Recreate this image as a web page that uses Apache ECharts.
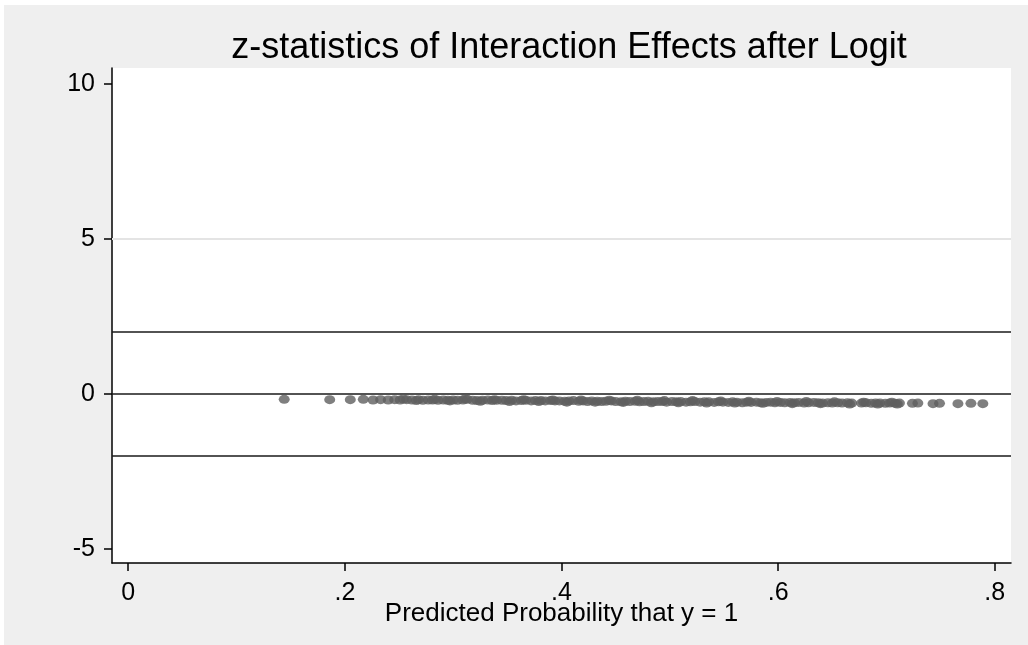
<!DOCTYPE html>
<html>
<head>
<meta charset="utf-8">
<script src="https://cdn.jsdelivr.net/npm/echarts@6/dist/echarts.min.js"></script>
<style>
    html, body { margin: 0; padding: 0; background: #ffffff; }
    #chart { position: absolute; left: 4px; top: 5px; width: 1024px; height: 640px; }
</style>
</head>
<body>
<div id="chart"></div>
<script>
const TITLE = "z-statistics of Interaction Effects after Logit";
const X_NAME = "Predicted Probability that y = 1";

const xTicks = [0, 0.2, 0.4, 0.6, 0.8];
const yTicks = [-5, 0, 5, 10];
const yGrid = [5];
const yRefLines = [-2, 0, 2];

const probs = [
    0.144, 0.186, 0.205, 0.217, 0.226, 0.233, 0.240, 0.246, 0.251, 0.257,
    0.262, 0.268, 0.272, 0.277, 0.281, 0.286, 0.291, 0.295, 0.300, 0.304,
    0.309, 0.313, 0.318, 0.322, 0.327, 0.332, 0.336, 0.340, 0.345, 0.349,
    0.354, 0.358, 0.363, 0.367, 0.372, 0.376, 0.381, 0.385, 0.390, 0.394,
    0.398, 0.403, 0.407, 0.411, 0.416, 0.420, 0.424, 0.428, 0.433, 0.437,
    0.441, 0.446, 0.450, 0.455, 0.459, 0.463, 0.468, 0.472, 0.476, 0.480,
    0.485, 0.489, 0.493, 0.497, 0.502, 0.506, 0.510, 0.515, 0.519, 0.523,
    0.528, 0.532, 0.536, 0.541, 0.545, 0.549, 0.554, 0.558, 0.562, 0.567,
    0.571, 0.575, 0.580, 0.584, 0.589, 0.593, 0.597, 0.602, 0.606, 0.611,
    0.615, 0.619, 0.624, 0.628, 0.633, 0.637, 0.641, 0.646, 0.650, 0.655,
    0.659, 0.664, 0.668, 0.677, 0.681, 0.686, 0.690, 0.694, 0.699, 0.703,
    0.708, 0.712, 0.724, 0.729, 0.743, 0.749, 0.766, 0.778, 0.789,
    0.254, 0.266, 0.283, 0.297, 0.311, 0.325, 0.338, 0.352, 0.365, 0.379,
    0.392, 0.405, 0.418, 0.431, 0.444, 0.457, 0.470, 0.483, 0.495, 0.508,
    0.521, 0.534, 0.547, 0.560, 0.573, 0.586, 0.599, 0.613, 0.626, 0.639,
    0.652, 0.666, 0.679, 0.692, 0.705, 0.710
];

const zStats = [
    -0.17, -0.18, -0.18, -0.17, -0.19, -0.18, -0.19, -0.18, -0.19, -0.18,
    -0.19, -0.18, -0.20, -0.19, -0.19, -0.20, -0.19, -0.20, -0.19, -0.20,
    -0.19, -0.17, -0.20, -0.21, -0.20, -0.19, -0.21, -0.20, -0.20, -0.21,
    -0.20, -0.22, -0.21, -0.20, -0.22, -0.21, -0.21, -0.22, -0.21, -0.22,
    -0.22, -0.23, -0.22, -0.21, -0.23, -0.22, -0.24, -0.22, -0.23, -0.24,
    -0.23, -0.22, -0.24, -0.25, -0.23, -0.24, -0.23, -0.25, -0.24, -0.23,
    -0.25, -0.24, -0.24, -0.26, -0.24, -0.25, -0.24, -0.26, -0.25, -0.24,
    -0.26, -0.25, -0.25, -0.27, -0.25, -0.26, -0.27, -0.25, -0.26, -0.28,
    -0.26, -0.27, -0.26, -0.28, -0.27, -0.26, -0.28, -0.27, -0.28, -0.27,
    -0.28, -0.27, -0.29, -0.28, -0.27, -0.28, -0.29, -0.28, -0.29, -0.28,
    -0.29, -0.28, -0.29, -0.29, -0.28, -0.30, -0.29, -0.29, -0.30, -0.29,
    -0.30, -0.29, -0.30, -0.29, -0.31, -0.30, -0.31, -0.30, -0.31,
    -0.16, -0.21, -0.17, -0.22, -0.16, -0.23, -0.18, -0.24, -0.18, -0.24,
    -0.19, -0.26, -0.19, -0.26, -0.20, -0.27, -0.20, -0.28, -0.21, -0.28,
    -0.21, -0.29, -0.22, -0.29, -0.23, -0.30, -0.24, -0.31, -0.24, -0.31,
    -0.25, -0.32, -0.26, -0.32, -0.26, -0.32
];

const FONT = "'Liberation Sans', Arial, sans-serif";

/* ===========================
   Chart
=========================== */

const chart = echarts.init(document.getElementById("chart"));

const points = probs.map((p, i) => [p, zStats[i]]);

const lines = yGrid.map(v => ({
    yAxis: v,
    lineStyle: { color: "#e4e4e4", width: 2, type: "solid" }
})).concat(yRefLines.map(v => ({
    yAxis: v,
    lineStyle: { color: "#1a1a1a", width: 1.6, type: "solid" }
})));

chart.setOption({

    animation: false,
    backgroundColor: "#efefef",

    title: {
        text: TITLE,
        left: 560,
        top: 20,
        textAlign: "center",
        textStyle: {
            fontFamily: FONT,
            fontSize: 36,
            fontWeight: "normal",
            color: "#000"
        }
    },

    grid: {
        left: 108,
        right: 17,
        top: 63,
        bottom: 82,
        show: true,
        backgroundColor: "#ffffff",
        borderWidth: 0
    },

    xAxis: {
        type: "value",
        min: -0.015,
        max: 0.815,
        name: X_NAME,
        nameLocation: "middle",
        nameGap: 38,
        nameMoveOverlap: false,
        nameTextStyle: {
            fontFamily: FONT,
            fontSize: 26,
            color: "#000"
        },
        axisLine: {
            onZero: false,
            lineStyle: { color: "#000", width: 1.5 }
        },
        axisTick: {
            show: true,
            length: 8,
            customValues: xTicks,
            lineStyle: { color: "#000", width: 1.5 }
        },
        axisLabel: {
            customValues: xTicks,
            margin: 18,
            fontFamily: FONT,
            fontSize: 25,
            color: "#000",
            formatter: v => v === 0 ? "0" : Number(v).toFixed(1).replace(/^0/, "")
        },
        splitLine: { show: false }
    },

    yAxis: {
        type: "value",
        min: -5.45,
        max: 10.52,
        axisLine: {
            show: true,
            onZero: false,
            lineStyle: { color: "#000", width: 1.5 }
        },
        axisTick: {
            show: true,
            length: 8,
            customValues: yTicks,
            lineStyle: { color: "#000", width: 1.5 }
        },
        axisLabel: {
            customValues: yTicks,
            margin: 17,
            fontFamily: FONT,
            fontSize: 25,
            color: "#000",
            formatter: v => String(v)
        },
        splitLine: { show: false }
    },

    series: [{
        type: "scatter",
        data: points,
        symbol: "circle",
        symbolSize: [11, 9],
        itemStyle: {
            color: "#5f5f5f"
        },
        z: 3,
        markLine: {
            silent: true,
            symbol: "none",
            label: { show: false },
            animation: false,
            z: 2,
            data: lines
        }
    }]

});
</script>
</body>
</html>
